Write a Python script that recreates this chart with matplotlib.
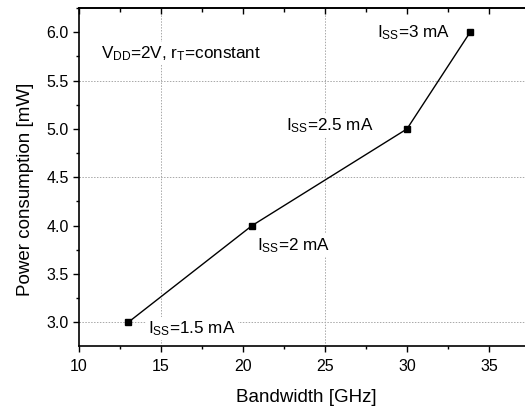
import matplotlib
matplotlib.use("Agg")
import matplotlib.pyplot as plt
from matplotlib.ticker import MultipleLocator

plt.rcParams['font.family'] = ['Liberation Sans', 'DejaVu Sans']
plt.rcParams['mathtext.fontset'] = 'custom'
plt.rcParams['mathtext.rm'] = 'Liberation Sans'
plt.rcParams['mathtext.it'] = 'Liberation Sans:italic'

# data
bandwidth = [13.0, 20.55, 30.0, 33.85]      # GHz
power = [3.0, 4.0, 5.0, 6.0]               # mW
point_labels = [r'$\mathrm{I_{SS}}$=1.5 mA', r'$\mathrm{I_{SS}}$=2 mA',
                r'$\mathrm{I_{SS}}$=2.5 mA', r'$\mathrm{I_{SS}}$=3 mA']
label_pos = [(14.23, 2.887), (20.83, 3.748), (22.62, 4.99), (28.15, 5.945)]
note = r'$\mathrm{V_{DD}}$=2V, $\mathrm{r_{T}}$=constant'
note_pos = (11.32, 5.73)
grid_x = [15, 25]
grid_y = [3.0, 4.5, 5.5]

fig = plt.figure(figsize=(5.25, 4.09), dpi=100)
ax = fig.add_axes([0.1505, 0.154, 0.859, 0.8264])

for gx in grid_x:
    ax.axvline(gx, color='#a8a8a8', lw=0.7, ls=(0, (1.5, 1.5)), zorder=0)
for gy in grid_y:
    ax.axhline(gy, color='#a8a8a8', lw=0.7, ls=(0, (1.5, 1.5)), zorder=0)

ax.plot(bandwidth, power, color='black', lw=1.0, marker='s', ms=4.3, zorder=5)

for txt, (tx, ty) in zip(point_labels, label_pos):
    ax.text(tx, ty, txt, fontsize=12.3, va='baseline', ha='left', zorder=3,
            bbox=dict(fc='white', ec='none', pad=1.5))
ax.text(note_pos[0], note_pos[1], note, fontsize=12.3, va='baseline', ha='left', zorder=3,
        bbox=dict(fc='white', ec='none', pad=1.5))

ax.set_xlim(10, 37.5)
ax.set_ylim(2.755, 6.25)
ax.xaxis.set_major_locator(MultipleLocator(5))
ax.xaxis.set_minor_locator(MultipleLocator(2.5))
ax.yaxis.set_major_locator(MultipleLocator(0.5))
ax.yaxis.set_minor_locator(MultipleLocator(0.25))
ax.yaxis.set_major_formatter(matplotlib.ticker.FormatStrFormatter('%.1f'))

ax.tick_params(which='major', direction='out', length=4, width=1.0, labelsize=11.5)
ax.tick_params(which='minor', direction='out', length=2.4, width=1.0)
ax.tick_params(axis='x', which='major', pad=5)
ax.tick_params(axis='y', which='major', pad=3.5)
for sp in ax.spines.values():
    sp.set_linewidth(1.2)
ax.spines['right'].set_visible(False)

# top axis: ticks pointing inward, no labels
top = ax.secondary_xaxis('top')
top.xaxis.set_major_locator(MultipleLocator(5))
top.xaxis.set_minor_locator(MultipleLocator(2.5))
top.tick_params(which='major', direction='in', length=4.5, width=1.0, labeltop=False)
top.tick_params(which='minor', direction='in', length=3, width=1.0)
for name, sp in top.spines.items():
    sp.set_visible(name == 'top')
top.spines['top'].set_linewidth(1.2)

ax.set_xlabel('Bandwidth [GHz]', fontsize=13.5)
ax.set_ylabel('Power consumption [mW]', fontsize=13.5)
ax.xaxis.set_label_coords(0.503, -0.127)
ax.yaxis.set_label_coords(-0.0998, 0.463)

fig.savefig('out.png', dpi=100)
